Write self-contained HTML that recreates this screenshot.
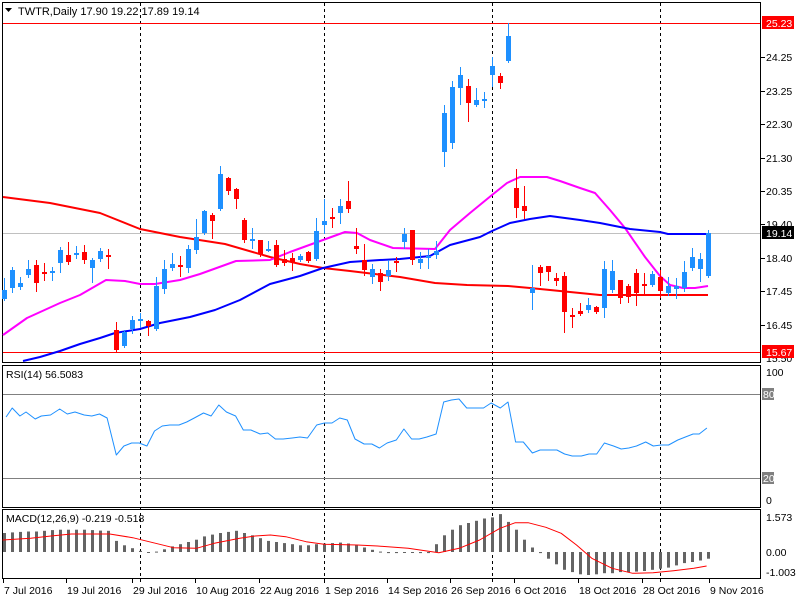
<!DOCTYPE html>
<html><head><meta charset="utf-8">
<style>
html,body{margin:0;padding:0;background:#fff;}
svg{display:block;font-family:"Liberation Sans",sans-serif;}
</style></head>
<body>
<svg id="c" width="800" height="600" viewBox="0 0 800 600" xmlns="http://www.w3.org/2000/svg">
<rect width="800" height="600" fill="#fff"/>
<!-- frames -->
<rect x="2.5" y="2.5" width="758" height="360" fill="none" stroke="#000"/>
<rect x="2.5" y="365.5" width="758" height="142" fill="none" stroke="#000"/>
<rect x="2.5" y="509.5" width="758" height="69" fill="none" stroke="#000"/>
<g id="g"></g>
<!-- header -->
<polygon points="5,8 12,8 8.5,12" fill="#000"/>
<text x="18" y="15" font-size="11" fill="#000">TWTR,Daily  17.90 19.22 17.89 19.14</text>
<text x="6" y="378" font-size="10.5" fill="#000">RSI(14) 56.5083</text>
<text x="6" y="522" font-size="10.5" fill="#000">MACD(12,26,9) -0.219 -0.518</text>
</svg>
<script>
var g=document.getElementById('g');var s='';
function L(x1,y1,x2,y2,c,w,d){s+='<line x1="'+x1+'" y1="'+y1+'" x2="'+x2+'" y2="'+y2+'" stroke="'+c+'" stroke-width="'+(w||1)+'"'+(d?' stroke-dasharray="'+d+'"':'')+'/>';}
function T(x,y,t,o){s+='<text x="'+x+'" y="'+y+'" font-size="'+((o&&o.fs)||10.5)+'" fill="'+((o&&o.c)||'#000')+'">'+t+'</text>';}
// dashed month lines
[140,324,492,660].forEach(function(x){L(x+.5,3,x+.5,582,'#000',1,'3,3');});
// horizontal lines
L(3,23.5,760,23.5,'#f00',1);L(3,352.5,760,352.5,'#f00',1);L(3,233.5,760,233.5,'#c0c0c0',1);
L(3,394.5,760,394.5,'#808080',1);L(3,478.5,760,478.5,'#808080',1);
// candles: O C H L in pixel y
var C=[[299,290,278,300],[288,270,267,292],[287,283,277,289],[275,269,260,277],[265,283,260,291],[272,274,263,280],[272,271,267,280],[263,250,247,272],[255,262,242,264],[255,253,246,258],[252,260,245,263],[268,260,258,282],[259,251,248,261],[255,257,249,268],
[330,350,322,352],[346,332,330,347],[329,320,316,333],[321,319,313,327],[321,326,320,335],[329,286,277,330],[289,269,260,293],[268,264,253,270],[265,267,256,276],[268,249,245,272],[250,237,219,253],[233,211,210,234],[215,221,213,238],[209,174,166,210],[178,191,177,194],[189,199,188,208],[220,240,218,242],[240,239,228,248],[240,254,240,256],[250,249,241,251],[245,265,240,266],[259,263,250,265],[258,262,253,270],[260,256,254,261],[252,261,251,262],[259,231,218,260],
[225,221,199,233],[217,219,208,227],[213,206,199,223],[201,209,181,212],[246,249,228,253],[260,270,244,275],[277,269,264,283],[273,282,269,290],[276,270,260,280],[261,263,257,271],[242,234,228,248],[230,260,230,264],[263,259,252,268],[257,256,249,268],[255,251,241,258],[152,113,105,166],[143,87,81,148],[88,75,67,104],
[86,103,79,121],[105,100,88,106],[101,99,92,107],[75,66,57,86],[76,83,73,88],[61,36,23,62],[188,208,169,217],[206,211,186,218],[293,288,265,309],[267,273,265,285],[266,272,266,280],[278,281,273,285],[276,312,272,332],[315,317,308,327],[311,314,303,315],[310,305,298,312],[307,312,306,313],[308,269,261,317],[290,271,260,292],[280,298,280,303],[286,297,284,302],[273,293,269,305],[284,285,273,293],[285,274,271,286],[277,291,270,297],[293,286,277,295],[289,286,278,298],[288,272,261,291],[268,257,248,270],[269,259,253,281],[276,233,230,277]];
function P(a,c,w){var p=a.map(function(q){return q[0]+','+q[1];}).join(' ');s+='<polyline points="'+p+'" fill="none" stroke="'+c+'" stroke-width="'+w+'" stroke-linejoin="round"/>';}
// MAs
P([[3,197],[50,203],[100,213],[140,229],[180,237],[225,244],[270,257],[300,264],[323,268],[350,271],[400,277],[435,283],[467,285],[508,286],[530,288],[570,292],[600,295],[708,295]],'#f00',2);
P([[3,335],[27,318],[60,303],[80,295],[106,280],[125,281],[140,284],[155,284],[180,280],[200,274],[236,261],[270,260],[290,252],[323,240],[345,232],[357,233],[370,240],[393,248],[435,249],[450,230],[470,213],[492,195],[507,183],[520,177],[547,177],[560,181],[580,188],[595,193],[610,210],[625,228],[645,257],[660,276],[670,285],[683,288],[695,288],[708,286]],'#f0f',2);
P([[23,361],[40,357],[60,351],[80,344],[100,338],[115,333],[140,329],[160,323],[190,317],[215,310],[240,300],[270,284],[300,276],[323,268],[350,262],[380,260],[400,259],[430,256],[450,245],[480,237],[492,231],[510,223],[530,219],[550,216],[580,220],[600,223],[630,229],[660,232],[668,234],[708,234]],'#00f',2);
C.forEach(function(c,i){var x=4+8*i;var up=c[1]<c[0];var col=up?'#1e90ff':'#f00';
L(x+.5,c[2],x+.5,c[3]+1,col,1);var t=Math.min(c[0],c[1]),h=Math.max(Math.abs(c[1]-c[0]),2);
s+='<rect x="'+(x-2)+'" y="'+t+'" width="5" height="'+h+'" fill="'+col+'"/>';});
// RSI
var R=[[4,417],[8,408],[13,416],[17,412],[23,419],[27,416],[33,415],[39,409],[44,414],[49,412],[55,415],[60,416],[65,414],[70,418],[76,455],[81,446],[86,443],[91,443],[96,446],[101,431],[106,426],[111,425],[117,425],[122,422],[127,418],[133,413],[138,416],[143,405],[148,412],[154,416],[159,430],[164,430],[170,434],[175,433],[180,439],[185,439],[191,438],[196,437],[201,438],[207,425],[212,423],[217,423],[222,418],[227,420],[232,439],[238,444],[243,444],[248,448],[253,443],[259,440],[264,429],[269,439],[274,439],[279,437],[285,434],[290,402],[295,400],[300,399],[305,408],[310,408],[316,408],[321,403],[327,408],[332,402],[337,442],[342,442],[348,453],[353,450],[358,450],[364,450],[369,454],[374,456],[380,456],[385,454],[390,454],[395,443],[401,446],[406,449],[411,448],[416,446],[422,442],[427,446],[432,445],[437,445],[443,440],[448,437],[453,434],[457,434],[462,428]];
P(R.map(function(q){return [(q[0]*1.53).toFixed(1),q[1]];}),'#1e90ff',1);
// MACD hist
var H=[0.85,0.88,0.9,0.92,0.92,0.95,0.98,1.0,1.0,1.0,1.0,0.98,0.96,0.95,0.5,0.3,0.17,0.05,-0.02,0.02,0.12,0.25,0.35,0.45,0.55,0.7,0.78,0.85,0.9,0.95,0.85,0.75,0.62,0.5,0.45,0.4,0.35,0.3,0.3,0.35,0.38,0.4,0.42,0.38,0.3,0.2,0.1,0.02,-0.05,-0.05,-0.04,-0.04,-0.05,-0.05,0.35,0.75,1.0,1.2,1.3,1.4,1.5,1.55,1.7,1.35,1.0,0.55,0.2,-0.05,-0.3,-0.55,-0.8,-0.9,-1.0,-1.03,-1.0,-0.95,-0.95,-0.9,-0.9,-0.88,-0.85,-0.8,-0.75,-0.7,-0.6,-0.5,-0.45,-0.38,-0.3];
H.forEach(function(v,i){var x=4+8*i;var y=552-v*22.3;var t=Math.min(y,552),h=Math.max(Math.abs(552-y),1);s+='<rect x="'+(x-1)+'" y="'+t.toFixed(1)+'" width="3" height="'+h.toFixed(1)+'" fill="#646464"/>';});
var M=[[5,540],[60,535],[100,528],[140,522],[215,522],[260,533],[300,548],[340,563],[385,565],[420,550],[470,535],[500,528],[530,525],[560,530],[600,545],[635,553],[700,555],[740,558],[800,565],[860,578],[900,565],[940,540],[980,505],[1010,488],[1035,488],[1070,502],[1100,520],[1130,555],[1160,595],[1200,625],[1240,640],[1280,638],[1320,632],[1360,625],[1385,618]];
P(M.map(function(q){return [(q[0]/1.96).toFixed(1),(q[1]/3+360).toFixed(1)];}),'#f00',1);
// price axis
[[24.25,57],[23.25,91],[22.30,124],[21.30,158],[20.35,191],[19.40,224],[18.40,258],[17.45,291],[16.45,325]].forEach(function(a){L(761,a[1]+.5,765,a[1]+.5,'#000');T(766,a[1]+4,a[0].toFixed(2));});
T(766,362,'15.50');
s+='<rect x="762" y="16" width="32" height="13" fill="#f00"/>';T(766,27,'25.23',{c:'#fff'});
s+='<rect x="762" y="226" width="32" height="13" fill="#000"/>';T(766,237,'19.14',{c:'#fff'});
s+='<rect x="762" y="345" width="32" height="13" fill="#f00"/>';T(766,356,'15.67',{c:'#fff'});
T(766,376,'100');T(766,504,'0');
s+='<rect x="762" y="388" width="12" height="12" fill="#808080"/>';T(763,398,'80',{c:'#fff'});
s+='<rect x="762" y="472" width="12" height="12" fill="#808080"/>';T(763,482,'20',{c:'#fff'});
T(766,521,'1.573');T(766,556,'0.00');T(766,576,'-1.003');
// date axis
[[3,'7 Jul 2016'],[66,'19 Jul 2016'],[132,'29 Jul 2016'],[195,'10 Aug 2016'],[259,'22 Aug 2016'],[324,'1 Sep 2016'],[387,'14 Sep 2016'],[450,'26 Sep 2016'],[514,'6 Oct 2016'],[578,'18 Oct 2016'],[642,'28 Oct 2016'],[709,'9 Nov 2016']].forEach(function(a){L(a[0]+.5,579,a[0]+.5,583,'#000');T(a[0]+1,594,a[1]);});
g.innerHTML=s;
</script>
</body></html>
